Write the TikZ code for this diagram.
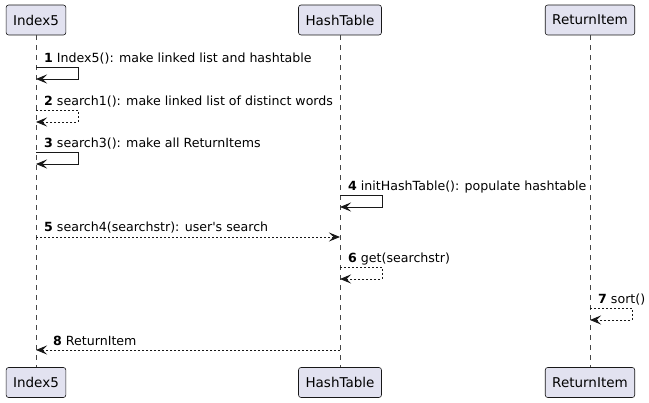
\documentclass[tikz,border=0pt]{standalone}
\usepackage{fontspec}
\setmainfont{DejaVu Sans}
\usetikzlibrary{arrows.meta, positioning, calc}
\definecolor{partfill}{HTML}{E2E2F0}
\definecolor{partline}{HTML}{181818}

\begin{document}
\begin{tikzpicture}[x=1pt, y=-1pt,
  participant/.style={draw=partline, fill=partfill, rounded corners=2.5pt,
    minimum height=30pt, inner xsep=7pt, line width=0.6pt,
    font=\fontsize{13.5}{15}\selectfont},
  lifeline/.style={draw=partline!80, line width=0.5pt, dash pattern=on 5pt off 5pt},
  msg/.style={draw=partline, line width=0.9pt,
    -{Stealth[length=11pt, width=9pt, inset=4.5pt]}},
  reply/.style={msg, dash pattern=on 2pt off 2pt},
  msglabel/.style={anchor=base west, inner sep=0pt,
    font=\fontsize{12.6}{14}\selectfont}]
  \useasboundingbox (0,0) rectangle (649,403);

  % Participants, top and bottom
  \node[participant] (idxTop)  at (36,20)  {Index5};
  \node[participant] (hashTop) at (340,20) {HashTable};
  \node[participant] (retTop)  at (590,20) {ReturnItem};
  \node[participant] (idxBot)  at (36,382.5)  {Index5};
  \node[participant] (hashBot) at (340,382.5) {HashTable};
  \node[participant] (retBot)  at (590,382.5) {ReturnItem};

  % Lifelines
  \draw[lifeline] (idxTop.south)  -- (idxBot.north);
  \draw[lifeline] (hashTop.south) -- (hashBot.north);
  \draw[lifeline] (retTop.south)  -- (retBot.north);

  % 1: self call on Index5
  \coordinate (m1a) at (36,67);
  \coordinate (m1b) at (36,79);
  \node[msglabel] (lbl1) at (44,63) {\textbf{1} Index5(): make linked list and hashtable};
  \draw[msg] (m1a) -- ++(42,0) |- (m1b);

  % 2
  \coordinate (m2a) at (36,110);
  \coordinate (m2b) at (36,122);
  \node[msglabel] (lbl2) at (44,106) {\textbf{2} search1(): make linked list of distinct words};
  \draw[reply] (m2a) -- ++(42,0) |- (m2b);

  % 3
  \coordinate (m3a) at (36,152);
  \coordinate (m3b) at (36,164);
  \node[msglabel] (lbl3) at (44,148) {\textbf{3} search3(): make all ReturnItems};
  \draw[msg] (m3a) -- ++(42,0) |- (m3b);

  % 4: self call on HashTable
  \coordinate (m4a) at (340,195);
  \coordinate (m4b) at (340,207);
  \node[msglabel] (lbl4) at (348,191) {\textbf{4} initHashTable(): populate hashtable};
  \draw[msg] (m4a) -- ++(42,0) |- (m4b);

  % 5: Index5 to HashTable
  \coordinate (m5a) at (36,237);
  \coordinate (m5b) at (340,237);
  \node[msglabel] (lbl5) at (44,232) {\textbf{5} search4(searchstr): user\textquotesingle s search};
  \draw[reply] (m5a) -- (m5b);

  % 6
  \coordinate (m6a) at (340,267);
  \coordinate (m6b) at (340,279);
  \node[msglabel] (lbl6) at (348,263) {\textbf{6} get(searchstr)};
  \draw[reply] (m6a) -- ++(42,0) |- (m6b);

  % 7: self call on ReturnItem
  \coordinate (m7a) at (590,308);
  \coordinate (m7b) at (590,320);
  \node[msglabel] (lbl7) at (598,304) {\textbf{7} sort()};
  \draw[reply] (m7a) -- ++(42,0) |- (m7b);

  % 8: HashTable back to Index5
  \coordinate (m8a) at (340,350);
  \coordinate (m8b) at (36,350);
  \node[msglabel] (lbl8) at (53,346) {\textbf{8} ReturnItem};
  \draw[reply] (m8a) -- (m8b);
\end{tikzpicture}
\end{document}
